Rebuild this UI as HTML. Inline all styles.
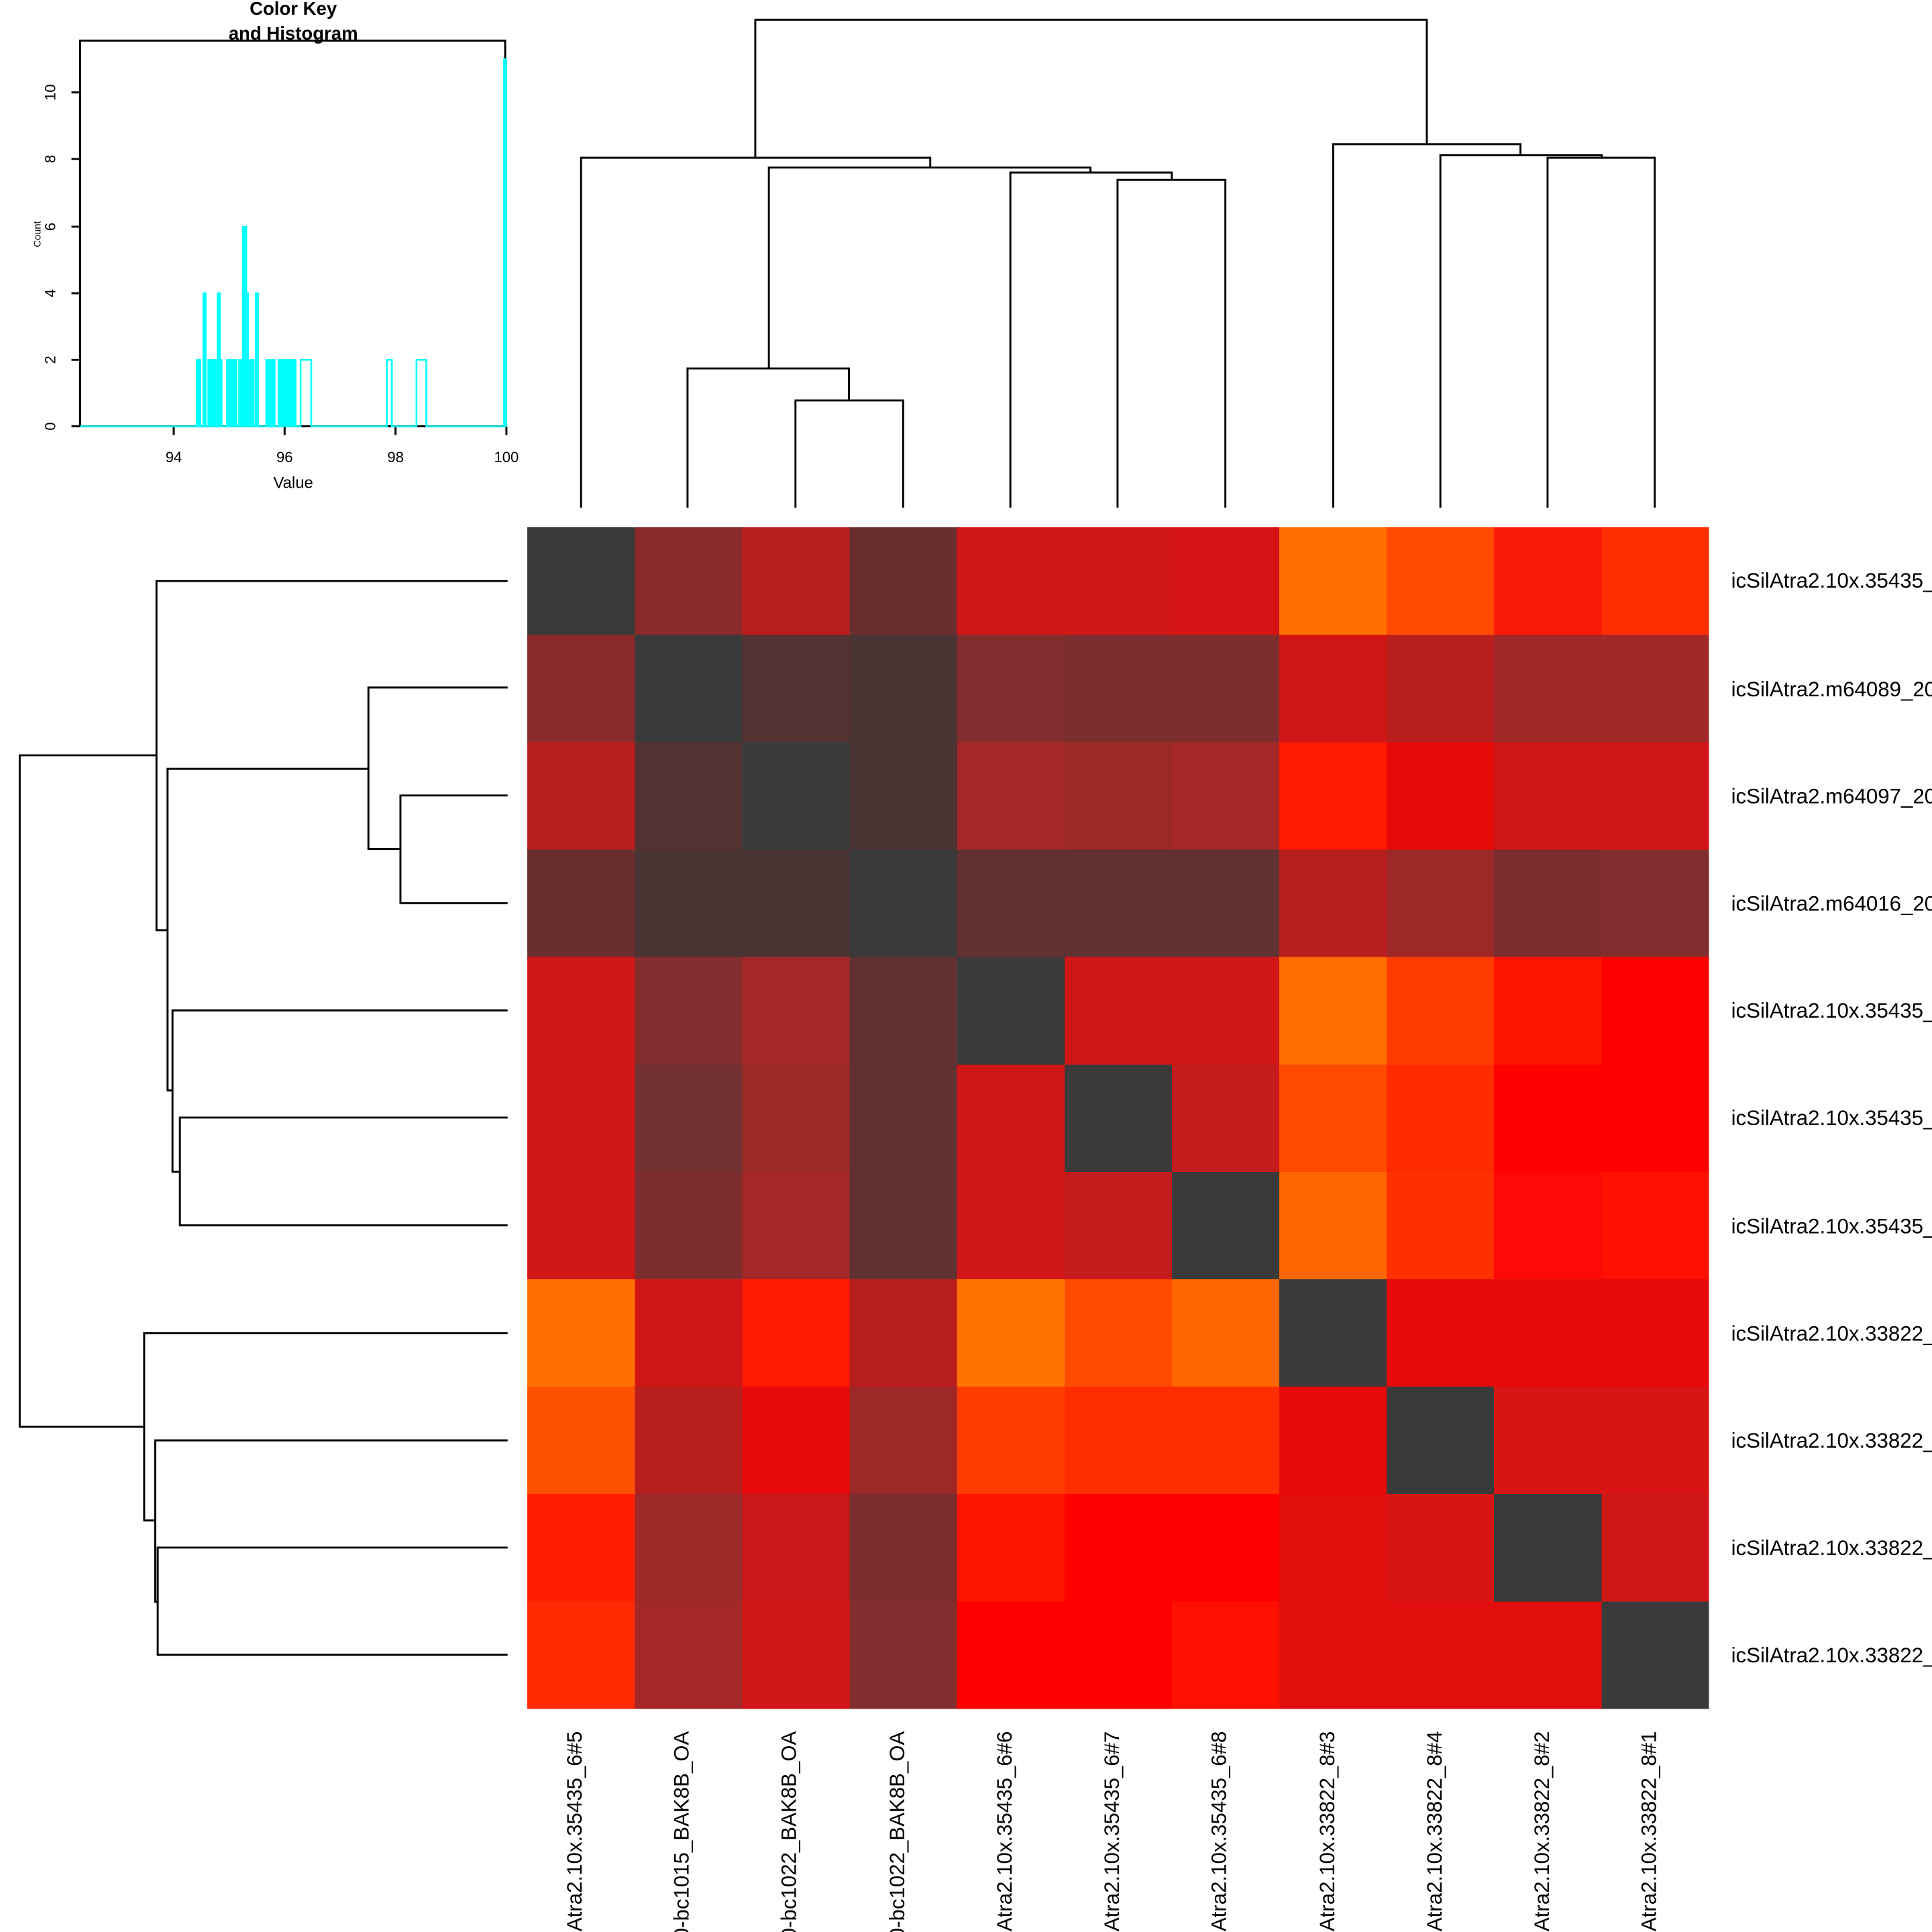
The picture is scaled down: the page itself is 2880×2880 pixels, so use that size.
<!DOCTYPE html>
<html><head><meta charset="utf-8"><style>html,body{margin:0;padding:0;background:#fff;overflow:hidden;width:2880px;height:2880px}svg{display:block}</style></head>
<body>
<svg width="2880" height="2880" viewBox="0 0 1568 1568" xmlns="http://www.w3.org/2000/svg" font-family="Liberation Sans, sans-serif" overflow="hidden">
<rect width="1568" height="1568" fill="#fff"/>
<defs>
<g id="c0"><rect x="0" width="88" height="88"/></g>
</defs>
<g shape-rendering="crispEdges">
<g transform="translate(0,428)">
<rect x="428" width="88" height="88" fill="#3a3a3a"/><rect x="515.2" width="88" height="88" fill="#8b2a2a"/><rect x="602.4" width="88" height="88" fill="#b81e1e"/><rect x="689.5" width="88" height="88" fill="#6b2e2e"/><rect x="776.7" width="88" height="88" fill="#d01616"/><rect x="863.9" width="88" height="88" fill="#d01616"/><rect x="951.1" width="88" height="88" fill="#d41414"/><rect x="1038.3" width="88" height="88" fill="#ff6e00"/><rect x="1125.5" width="88" height="88" fill="#ff4a00"/><rect x="1212.6" width="88" height="88" fill="#fb1a0a"/><rect x="1299.8" width="87.2" height="88" fill="#ff2e00"/>
</g>
<g transform="translate(0,515.2)">
<rect x="428" width="88" height="88" fill="#8b2a2a"/><rect x="515.2" width="88" height="88" fill="#3a3a3a"/><rect x="602.4" width="88" height="88" fill="#553232"/><rect x="689.5" width="88" height="88" fill="#4a3434"/><rect x="776.7" width="88" height="88" fill="#832e2e"/><rect x="863.9" width="88" height="88" fill="#7c2e2e"/><rect x="951.1" width="88" height="88" fill="#7c2e2e"/><rect x="1038.3" width="88" height="88" fill="#d01616"/><rect x="1125.5" width="88" height="88" fill="#b81e1e"/><rect x="1212.6" width="88" height="88" fill="#a02828"/><rect x="1299.8" width="87.2" height="88" fill="#a02828"/>
</g>
<g transform="translate(0,602.4)">
<rect x="428" width="88" height="88" fill="#b81e1e"/><rect x="515.2" width="88" height="88" fill="#553232"/><rect x="602.4" width="88" height="88" fill="#3a3a3a"/><rect x="689.5" width="88" height="88" fill="#4a3434"/><rect x="776.7" width="88" height="88" fill="#a42828"/><rect x="863.9" width="88" height="88" fill="#9c2828"/><rect x="951.1" width="88" height="88" fill="#a42828"/><rect x="1038.3" width="88" height="88" fill="#ff1a00"/><rect x="1125.5" width="88" height="88" fill="#e60a0a"/><rect x="1212.6" width="88" height="88" fill="#d01616"/><rect x="1299.8" width="87.2" height="88" fill="#d01616"/>
</g>
<g transform="translate(0,689.5)">
<rect x="428" width="88" height="88" fill="#6b2e2e"/><rect x="515.2" width="88" height="88" fill="#4a3434"/><rect x="602.4" width="88" height="88" fill="#4a3434"/><rect x="689.5" width="88" height="88" fill="#3a3a3a"/><rect x="776.7" width="88" height="88" fill="#623232"/><rect x="863.9" width="88" height="88" fill="#623232"/><rect x="951.1" width="88" height="88" fill="#623232"/><rect x="1038.3" width="88" height="88" fill="#b81e1e"/><rect x="1125.5" width="88" height="88" fill="#9c2828"/><rect x="1212.6" width="88" height="88" fill="#7c2e2e"/><rect x="1299.8" width="87.2" height="88" fill="#832e2e"/>
</g>
<g transform="translate(0,776.7)">
<rect x="428" width="88" height="88" fill="#d01616"/><rect x="515.2" width="88" height="88" fill="#832e2e"/><rect x="602.4" width="88" height="88" fill="#a42828"/><rect x="689.5" width="88" height="88" fill="#623232"/><rect x="776.7" width="88" height="88" fill="#3a3a3a"/><rect x="863.9" width="88" height="88" fill="#d01616"/><rect x="951.1" width="88" height="88" fill="#d01616"/><rect x="1038.3" width="88" height="88" fill="#ff6e00"/><rect x="1125.5" width="88" height="88" fill="#ff3c00"/><rect x="1212.6" width="88" height="88" fill="#ff1400"/><rect x="1299.8" width="87.2" height="88" fill="#ff0000"/>
</g>
<g transform="translate(0,863.9)">
<rect x="428" width="88" height="88" fill="#d01616"/><rect x="515.2" width="88" height="88" fill="#733232"/><rect x="602.4" width="88" height="88" fill="#9c2828"/><rect x="689.5" width="88" height="88" fill="#623232"/><rect x="776.7" width="88" height="88" fill="#d01616"/><rect x="863.9" width="88" height="88" fill="#3a3a3a"/><rect x="951.1" width="88" height="88" fill="#c41c1c"/><rect x="1038.3" width="88" height="88" fill="#ff4a00"/><rect x="1125.5" width="88" height="88" fill="#ff2a00"/><rect x="1212.6" width="88" height="88" fill="#ff0000"/><rect x="1299.8" width="87.2" height="88" fill="#ff0000"/>
</g>
<g transform="translate(0,951.1)">
<rect x="428" width="88" height="88" fill="#d01616"/><rect x="515.2" width="88" height="88" fill="#7c2e2e"/><rect x="602.4" width="88" height="88" fill="#a42828"/><rect x="689.5" width="88" height="88" fill="#623232"/><rect x="776.7" width="88" height="88" fill="#d01616"/><rect x="863.9" width="88" height="88" fill="#c41c1c"/><rect x="951.1" width="88" height="88" fill="#3a3a3a"/><rect x="1038.3" width="88" height="88" fill="#ff6600"/><rect x="1125.5" width="88" height="88" fill="#ff3000"/><rect x="1212.6" width="88" height="88" fill="#ff0808"/><rect x="1299.8" width="87.2" height="88" fill="#ff1000"/>
</g>
<g transform="translate(0,1038.3)">
<rect x="428" width="88" height="88" fill="#ff6e00"/><rect x="515.2" width="88" height="88" fill="#d01616"/><rect x="602.4" width="88" height="88" fill="#ff1a00"/><rect x="689.5" width="88" height="88" fill="#b81e1e"/><rect x="776.7" width="88" height="88" fill="#ff7200"/><rect x="863.9" width="88" height="88" fill="#ff4a00"/><rect x="951.1" width="88" height="88" fill="#ff6600"/><rect x="1038.3" width="88" height="88" fill="#3a3a3a"/><rect x="1125.5" width="88" height="88" fill="#e60a0a"/><rect x="1212.6" width="88" height="88" fill="#e60a0a"/><rect x="1299.8" width="87.2" height="88" fill="#e60a0a"/>
</g>
<g transform="translate(0,1125.5)">
<rect x="428" width="88" height="88" fill="#ff5200"/><rect x="515.2" width="88" height="88" fill="#b81e1e"/><rect x="602.4" width="88" height="88" fill="#e60a0a"/><rect x="689.5" width="88" height="88" fill="#9c2828"/><rect x="776.7" width="88" height="88" fill="#ff3c00"/><rect x="863.9" width="88" height="88" fill="#ff2e00"/><rect x="951.1" width="88" height="88" fill="#ff2e00"/><rect x="1038.3" width="88" height="88" fill="#e60a0a"/><rect x="1125.5" width="88" height="88" fill="#3a3a3a"/><rect x="1212.6" width="88" height="88" fill="#d81414"/><rect x="1299.8" width="87.2" height="88" fill="#d81414"/>
</g>
<g transform="translate(0,1212.6)">
<rect x="428" width="88" height="88" fill="#ff1e00"/><rect x="515.2" width="88" height="88" fill="#9c2828"/><rect x="602.4" width="88" height="88" fill="#c81818"/><rect x="689.5" width="88" height="88" fill="#7c2e2e"/><rect x="776.7" width="88" height="88" fill="#ff1400"/><rect x="863.9" width="88" height="88" fill="#ff0000"/><rect x="951.1" width="88" height="88" fill="#ff0000"/><rect x="1038.3" width="88" height="88" fill="#e20e0e"/><rect x="1125.5" width="88" height="88" fill="#d81414"/><rect x="1212.6" width="88" height="88" fill="#3a3a3a"/><rect x="1299.8" width="87.2" height="88" fill="#d01616"/>
</g>
<g transform="translate(0,1299.8)">
<rect x="428" width="88" height="87.2" fill="#ff2a00"/><rect x="515.2" width="88" height="87.2" fill="#a42828"/><rect x="602.4" width="88" height="87.2" fill="#d01616"/><rect x="689.5" width="88" height="87.2" fill="#832e2e"/><rect x="776.7" width="88" height="87.2" fill="#ff0000"/><rect x="863.9" width="88" height="87.2" fill="#ff0000"/><rect x="951.1" width="88" height="87.2" fill="#ff1000"/><rect x="1038.3" width="88" height="87.2" fill="#e20e0e"/><rect x="1125.5" width="88" height="87.2" fill="#e20e0e"/><rect x="1212.6" width="88" height="87.2" fill="#e20e0e"/><rect x="1299.8" width="87.2" height="87.2" fill="#3a3a3a"/>
</g>
</g>
<g fill="none" stroke="#000" stroke-width="1.6">
<path d="M645.6,412V325H733V412 M558,412V299H689V325 M907,412V146H994.5V412 M820,412V140H951V146 M624,299V136H885V140 M471.6,412V128H755V136 M1256,412V128H1343V412 M1169,412V126H1300V128 M1082,412V117H1234V126 M613,128V16H1158V117"/>
<path d="M412,645.6H325V733H412 M412,558H299V689H325 M412,907H146V994.5H412 M412,820H140V951H146 M299,624H136V885H140 M412,471.6H127V755H136 M412,1256H128V1343H412 M412,1169H126V1300H128 M412,1082H117V1234H126 M127,613H16V1158H117"/>
<rect x="65" y="33" width="345" height="313"/>
<path d="M141,346V353 M231,346V353 M321,346V353 M411,346V353 M141,346H411"/>
<path d="M65,346H58 M65,292H58 M65,238H58 M65,184H58 M65,129H58 M65,75H58 M65,75V346"/>
</g>
<g fill="#00ffff" stroke="#00ffff" stroke-width="1.2">
<rect x="159.5" y="292" width="3.3" height="54"/>
<rect x="165" y="238" width="2" height="108"/>
<rect x="169" y="292" width="11" height="54"/>
<rect x="176.5" y="238" width="2" height="108"/>
<rect x="184" y="292" width="3" height="54"/>
<rect x="188" y="292" width="4" height="54"/>
<rect x="194" y="292" width="12" height="54"/>
<rect x="197" y="184" width="3" height="162"/>
<rect x="200" y="238" width="1.5" height="108"/>
<rect x="207.5" y="238" width="2" height="108"/>
<rect x="216" y="292" width="7" height="54"/>
<rect x="226" y="292" width="1.5" height="54"/>
<rect x="228.6" y="292" width="2.4" height="54"/>
<rect x="232" y="292" width="3" height="54"/>
<rect x="236" y="292" width="4" height="54"/>
<rect x="409" y="48" width="2" height="298"/>
</g>
<g fill="none" stroke="#00ffff" stroke-width="1.4">
<path d="M65,346H244V292H252.6V346H314V292H318V346H338V292H346V346H410"/>
</g>
<g font-size="12" fill="#000">
<text x="141" y="375" text-anchor="middle">94</text>
<text x="231" y="375" text-anchor="middle">96</text>
<text x="321" y="375" text-anchor="middle">98</text>
<text x="411" y="375" text-anchor="middle">100</text>
<text x="238" y="396" text-anchor="middle" font-size="13">Value</text>
<g text-anchor="middle">
<text transform="translate(45,346) rotate(-90)">0</text>
<text transform="translate(45,292) rotate(-90)">2</text>
<text transform="translate(45,238) rotate(-90)">4</text>
<text transform="translate(45,184) rotate(-90)">6</text>
<text transform="translate(45,129) rotate(-90)">8</text>
<text transform="translate(45,75) rotate(-90)">10</text>
<text transform="translate(33,190) rotate(-90)" font-size="8">Count</text>
</g>
<text x="238" y="12" text-anchor="middle" font-weight="bold" font-size="15">Color Key</text>
<text x="238" y="32" text-anchor="middle" font-weight="bold" font-size="15">and Histogram</text>
</g>
<g font-size="17" fill="#000">
<text x="1405" y="477">icSilAtra2.10x.35435_6#5</text>
<text x="1405" y="565">icSilAtra2.m64089_200000_000000</text>
<text x="1405" y="652">icSilAtra2.m64097_200000_000000</text>
<text x="1405" y="739">icSilAtra2.m64016_200000_000000</text>
<text x="1405" y="826">icSilAtra2.10x.35435_6#6</text>
<text x="1405" y="913">icSilAtra2.10x.35435_6#7</text>
<text x="1405" y="1001">icSilAtra2.10x.35435_6#8</text>
<text x="1405" y="1088">icSilAtra2.10x.33822_8#3</text>
<text x="1405" y="1175">icSilAtra2.10x.33822_8#4</text>
<text x="1405" y="1262">icSilAtra2.10x.33822_8#2</text>
<text x="1405" y="1349">icSilAtra2.10x.33822_8#1</text>
<g text-anchor="end">
<text transform="translate(472,1405) rotate(-90)">icSilAtra2.10x.35435_6#5</text>
<text transform="translate(559,1405) rotate(-90)">icSilAtra2.m64089_200000-bc1015_BAK8B_OA</text>
<text transform="translate(646,1405) rotate(-90)">icSilAtra2.m64097_200000-bc1022_BAK8B_OA</text>
<text transform="translate(734,1405) rotate(-90)">icSilAtra2.m64016_200000-bc1022_BAK8B_OA</text>
<text transform="translate(821,1405) rotate(-90)">icSilAtra2.10x.35435_6#6</text>
<text transform="translate(908,1405) rotate(-90)">icSilAtra2.10x.35435_6#7</text>
<text transform="translate(995,1405) rotate(-90)">icSilAtra2.10x.35435_6#8</text>
<text transform="translate(1083,1405) rotate(-90)">icSilAtra2.10x.33822_8#3</text>
<text transform="translate(1170,1405) rotate(-90)">icSilAtra2.10x.33822_8#4</text>
<text transform="translate(1257,1405) rotate(-90)">icSilAtra2.10x.33822_8#2</text>
<text transform="translate(1344,1405) rotate(-90)">icSilAtra2.10x.33822_8#1</text>
</g>
</g>
</svg>
</body></html>
